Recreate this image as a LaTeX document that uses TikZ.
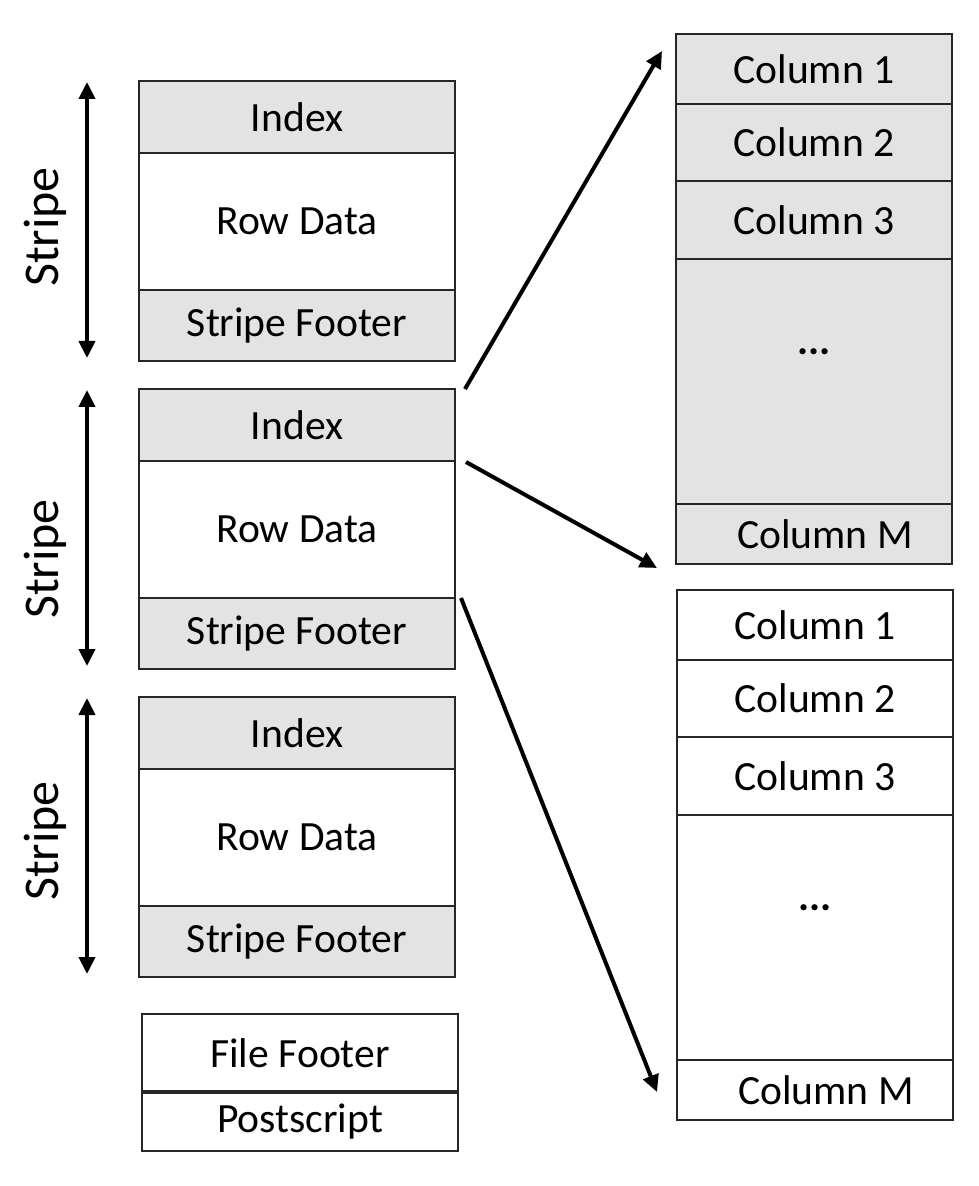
\documentclass[tikz,border=0pt]{standalone}
\usepackage{fontspec}
\setmainfont{Carlito}
\usetikzlibrary{arrows.meta, positioning, calc}
\definecolor{cellgray}{HTML}{E3E3E3}
\definecolor{edgegray}{HTML}{262626}

\begin{document}
\begin{tikzpicture}[x=0.5pt, y=-0.5pt, node distance=0pt,
        cell/.style={draw=edgegray, line width=1.15pt, minimum width=158pt, inner sep=0pt, outer sep=0pt, font=\fontsize{20.8}{24}\selectfont},
        colcell/.style={cell, minimum width=138pt},
        span/.style={{Triangle[length=8.5pt,width=8pt]}-{Triangle[length=8.5pt,width=8pt]}, line width=2pt},
        link/.style={-{Triangle[length=8.5pt,width=8pt]}, line width=2pt},
        stripelbl/.style={rotate=90, inner sep=0pt, font=\fontsize{25}{28}\selectfont}]
    \useasboundingbox (0,0) rectangle (978,1186);

    % stripes
    \foreach \s/\y/\ly in {1/81/227, 2/389/559, 3/697/841} {
        \node[cell, fill=cellgray, minimum height=36pt, anchor=north] (idx\s) at (297,\y) {Index};
        \node[cell, minimum height=68.5pt, below=of idx\s] (row\s) {Row Data};
        \node[cell, fill=cellgray, minimum height=35.5pt, below=of row\s] (foot\s) {Stripe Footer};
        \draw[span] ($(idx\s.north west)+(-52,1)$) -- ($(foot\s.south west)+(-52,-3)$);
        \node[stripelbl] (lbl\s) at (45,\ly) {Stripe};
    }

    % file footer and postscript
    \node[cell, minimum height=39pt, anchor=north] (ffoot) at (300,1014) {File Footer};
    \node[cell, minimum height=29.5pt, below=of ffoot] (post) {Postscript};
    \draw[line width=2pt, edgegray] (ffoot.south west) -- (ffoot.south east);

    % column layouts
    \foreach \b/\x/\y/\f in {a/814/34/cellgray, b/815/590/white} {
        \node[colcell, fill=\f, minimum height=35pt, anchor=north] (c\b1) at (\x,\y) {Column 1};
        \node[colcell, fill=\f, minimum height=38.5pt, below=of c\b1] (c\b2) {Column 2};
        \node[colcell, fill=\f, minimum height=39pt, below=of c\b2] (c\b3) {Column 3};
        \node[colcell, fill=\f, minimum height=122.5pt, below=of c\b3, text depth=30pt] (c\b dots) {\textbf{...}};
        \node[colcell, fill=\f, minimum height=30pt, below=of c\b dots] (c\b M) {\hspace*{11pt}Column M};
    }

    \draw[link] ($(idx2.north east)+(10,0)$) -- ($(ca1.north west)+(-14,17)$);
    \draw[link] ($(idx2.south east)+(11,1)$) -- ($(caM.south west)+(-19,4)$);
    \draw[link] ($(foot2.north east)+(6,0)$) -- ($(cbM.west)+(-20,2)$);
\end{tikzpicture}
\end{document}
